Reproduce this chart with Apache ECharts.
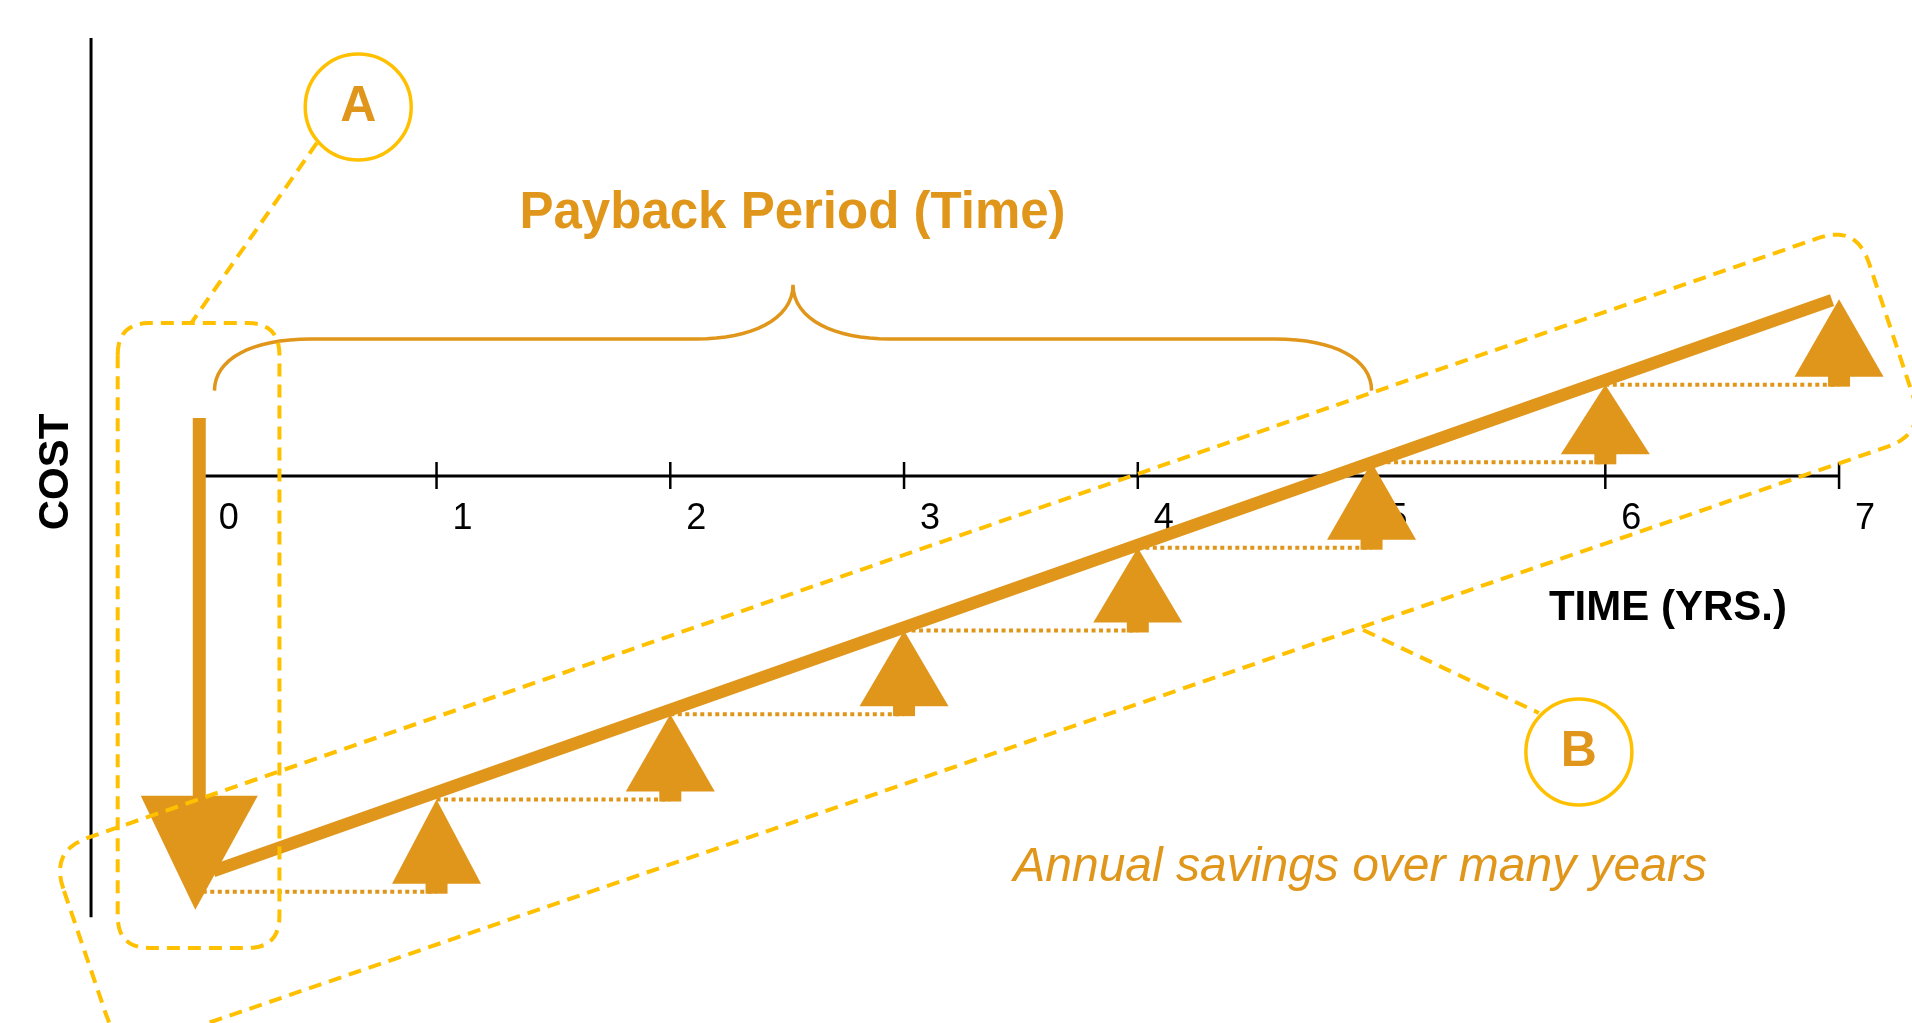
<!DOCTYPE html>
<html>
<head>
<meta charset="utf-8">
<title>Payback Period</title>
<script src="https://cdn.jsdelivr.net/npm/echarts@6/dist/echarts.min.js"></script>
<style>
  html, body { margin: 0; padding: 0; background: #fff; }
  #chart { width: 1912px; height: 1023px; }
</style>
</head>
<body>
<div id="chart"></div>
<script>
// time axis (years)
var years = [0, 1, 2, 3, 4, 5, 6, 7];
var yearLabels = ['0', '1', '2', '3', '4', '5', '6', '7'];
// initial cost arrow: [year, top, tip] in cost units
var initialArrow = [-0.015, 0.68, -5.08];
// net position right after the investment
var netStart = -4.87;
// savings gained each year (height of each up arrow)
var annualSavings = [1.08, 1.00, 0.98, 0.97, 1.00, 0.91, 1.00];
// straight cumulative line [year, cost]
var trendStart = [0.044, -4.63];
var trendEnd = [6.97, 2.06];
// payback brace span in years
var payback = [0.05, 5.0];

// cumulative net position at the end of each year
var netLevels = [netStart];
annualSavings.forEach(function (s, i) {
    netLevels.push(+(netLevels[i] + s).toFixed(2));
});

var ORANGE = '#E0961A';
var YELLOW = '#FFC000';
var FONT = "'Liberation Sans', Arial, sans-serif";

// annotation placement, in axis units
var layout = {
    braceEnd: 1.0, braceBar: 1.605, bracePeak: 2.24,
    title: [2.523, 3.075],
    axisName: [6.268, -1.546],
    costLabel: [-0.626, 0.047],
    costAxis: [-0.478, 5.13, -5.17],
    note: [4.951, -4.592],
    circleA: [0.665, 4.323], circleB: [5.887, -3.233],
    lineA: [[0.488, 3.902], [-0.046, 1.804]],
    lineB: [[4.964, -1.804], [5.716, -2.776]],
    boxA: [[-0.364, 1.792], [0.328, 1.792], [0.328, -5.53], [-0.364, -5.53]],
    boxB: [[-0.652, -4.39], [7.074, 2.942], [7.37, 0.496], [-0.357, -6.765]]
};

function unit(a, b) {
    var dx = a[0] - b[0], dy = a[1] - b[1];
    var l = Math.sqrt(dx * dx + dy * dy);
    return [dx / l, dy / l];
}
// polygon with rounded corners, as a list of points
function roundedPoly(pts, r) {
    var out = [], n = pts.length;
    for (var i = 0; i < n; i++) {
        var p = pts[i], a = pts[(i - 1 + n) % n], b = pts[(i + 1) % n];
        var da = unit(a, p), db = unit(b, p);
        var s = [p[0] + da[0] * r, p[1] + da[1] * r];
        var e = [p[0] + db[0] * r, p[1] + db[1] * r];
        for (var k = 0; k <= 10; k++) {
            var t = k / 10, u = 1 - t;
            out.push([u * u * s[0] + 2 * u * t * p[0] + t * t * e[0],
                      u * u * s[1] + 2 * u * t * p[1] + t * t * e[1]]);
        }
    }
    return out;
}
function cubic(p0, c1, c2, p3, out) {
    for (var k = 0; k <= 16; k++) {
        var t = k / 16, u = 1 - t;
        out.push([
            u * u * u * p0[0] + 3 * u * u * t * c1[0] + 3 * u * t * t * c2[0] + t * t * t * p3[0],
            u * u * u * p0[1] + 3 * u * u * t * c1[1] + 3 * u * t * t * c2[1] + t * t * t * p3[1]
        ]);
    }
}

// one-off drawing on the cartesian grid
function single(z, fn) {
    return {
        type: 'custom', coordinateSystem: 'cartesian2d', silent: true, z: z,
        data: [[0, 0]],
        renderItem: function (params, api) { return fn(api); }
    };
}
function dashedBox(api, corners, r) {
    var pts = corners.map(function (c) { return api.coord(c); });
    return {
        type: 'polygon', shape: { points: roundedPoly(pts, r) },
        style: { fill: null, stroke: YELLOW, lineWidth: 4, lineDash: [13, 8] }
    };
}
function circleLabel(api, c, letter) {
    var p = api.coord(c);
    return {
        type: 'group', children: [
            { type: 'circle', shape: { cx: p[0], cy: p[1], r: 53 },
              style: { fill: '#fff', stroke: YELLOW, lineWidth: 3.5 } },
            { type: 'text', x: p[0], y: p[1],
              style: { text: letter, fill: ORANGE, font: 'bold 50px ' + FONT,
                       align: 'center', verticalAlign: 'middle' } }
        ]
    };
}

var chart = echarts.init(document.getElementById('chart'));

chart.setOption({
    animation: false,
    backgroundColor: '#fff',
    grid: { left: 85.9, right: 14.5, top: 6.5, bottom: 13.5 },
    xAxis: { type: 'value', min: -0.5, max: 7.25, show: false },
    yAxis: { type: 'value', min: -6.25, max: 5.5, show: false },
    series: [
        // time axis line
        {
            type: 'line', z: 1, silent: true, symbol: 'none',
            data: [[years[0], 0], [years[years.length - 1], 0]],
            lineStyle: { color: '#000', width: 3 }
        },
        // cost axis line
        {
            type: 'line', z: 1, silent: true, symbol: 'none',
            data: [[layout.costAxis[0], layout.costAxis[1]], [layout.costAxis[0], layout.costAxis[2]]],
            lineStyle: { color: '#000', width: 3 }
        },
        // ticks and year labels
        {
            type: 'custom', coordinateSystem: 'cartesian2d', silent: true, z: 1,
            data: years.map(function (y) { return [y, 0]; }),
            renderItem: function (params, api) {
                var p = api.coord([api.value(0), 0]);
                var kids = [{
                    type: 'text', x: p[0] + 26, y: p[1] + 43,
                    style: { text: yearLabels[params.dataIndex], fill: '#000', font: '36px ' + FONT,
                             align: 'center', verticalAlign: 'middle' }
                }];
                if (api.value(0) > 0) {
                    kids.push({ type: 'line', shape: { x1: p[0], y1: p[1] - 14, x2: p[0], y2: p[1] + 13 },
                                style: { stroke: '#000', lineWidth: 2.5 } });
                }
                return { type: 'group', children: kids };
            }
        },
        // dotted steps at previous net level
        {
            type: 'custom', coordinateSystem: 'cartesian2d', silent: true, z: 2,
            data: annualSavings.map(function (s, i) { return [years[i], years[i + 1], netLevels[i]]; }),
            renderItem: function (params, api) {
                var a = api.coord([api.value(0), api.value(2)]);
                var b = api.coord([api.value(1), api.value(2)]);
                return { type: 'line', shape: { x1: a[0], y1: a[1], x2: b[0], y2: b[1] },
                         style: { stroke: ORANGE, lineWidth: 4, lineDash: [4, 3.5] } };
            }
        },
        // annual savings arrows
        {
            type: 'custom', coordinateSystem: 'cartesian2d', silent: true, z: 3,
            data: annualSavings.map(function (s, i) { return [years[i + 1], netLevels[i], netLevels[i + 1]]; }),
            renderItem: function (params, api) {
                var b = api.coord([api.value(0), api.value(1)]);
                var t = api.coord([api.value(0), api.value(2)]);
                var bottom = b[1] + 2, baseY = bottom - 10;
                return {
                    type: 'group', children: [
                        { type: 'rect', shape: { x: b[0] - 11, y: baseY - 1, width: 22, height: bottom - baseY + 1 },
                          style: { fill: ORANGE } },
                        { type: 'polygon', shape: { points: [[t[0], t[1]], [b[0] - 44.5, baseY], [b[0] + 44.5, baseY]] },
                          style: { fill: ORANGE } }
                    ]
                };
            }
        },
        // initial investment arrow
        single(4, function (api) {
            var top = api.coord([initialArrow[0], initialArrow[1]]);
            var tip = api.coord([initialArrow[0], initialArrow[2]]);
            var baseY = tip[1] - 114;
            return {
                type: 'group', children: [
                    { type: 'rect', shape: { x: top[0] - 6.5, y: top[1], width: 13, height: baseY - top[1] + 1 },
                      style: { fill: ORANGE } },
                    { type: 'polygon', shape: { points: [[tip[0] - 4, tip[1]], [tip[0] - 58.5, baseY], [tip[0] + 58.5, baseY]] },
                      style: { fill: ORANGE } }
                ]
            };
        }),
        // cumulative savings line
        {
            type: 'line', z: 4, silent: true, symbol: 'none',
            data: [trendStart, trendEnd],
            lineStyle: { color: ORANGE, width: 12.5, cap: 'butt' }
        },
        // payback brace and its title
        single(5, function (api) {
            var L = api.coord([payback[0], layout.braceEnd]);
            var R = api.coord([payback[1], layout.braceEnd]);
            var yH = api.coord([payback[0], layout.braceBar])[1];
            var yP = api.coord([payback[0], layout.bracePeak])[1];
            var xm = (L[0] + R[0]) / 2;
            var pts = [];
            cubic(L, [L[0], L[1] - 31], [L[0] + 36, yH], [L[0] + 97, yH], pts);
            cubic([xm - 96, yH], [xm - 43, yH], [xm, yH - 19], [xm, yP], pts);
            cubic([xm, yP], [xm, yH - 19], [xm + 43, yH], [xm + 96, yH], pts);
            cubic([R[0] - 97, yH], [R[0] - 36, yH], [R[0], R[1] - 31], R, pts);
            var tp = api.coord(layout.title);
            return {
                type: 'group', children: [
                    { type: 'polyline', shape: { points: pts },
                      style: { fill: null, stroke: ORANGE, lineWidth: 3.5 } },
                    { type: 'text', x: tp[0], y: tp[1],
                      style: { text: 'Payback Period (Time)', fill: ORANGE, font: 'bold 51px ' + FONT,
                               align: 'center', verticalAlign: 'middle' } }
                ]
            };
        }),
        // axis names and note
        single(5, function (api) {
            var a = api.coord(layout.axisName);
            var c = api.coord(layout.costLabel);
            var n = api.coord(layout.note);
            return {
                type: 'group', children: [
                    { type: 'text', x: a[0], y: a[1],
                      style: { text: 'TIME (YRS.)', fill: '#000', font: 'bold 42px ' + FONT,
                               align: 'center', verticalAlign: 'middle' } },
                    { type: 'text', x: c[0], y: c[1], rotation: Math.PI / 2,
                      style: { text: 'COST', fill: '#000', font: 'bold 42px ' + FONT,
                               align: 'center', verticalAlign: 'middle' } },
                    { type: 'text', x: n[0], y: n[1],
                      style: { text: 'Annual savings over many years', fill: ORANGE, font: 'italic 48px ' + FONT,
                               align: 'center', verticalAlign: 'middle' } }
                ]
            };
        }),
        // dashed callout boxes, leaders and circles
        single(6, function (api) {
            var la = layout.lineA.map(function (c) { return api.coord(c); });
            var lb = layout.lineB.map(function (c) { return api.coord(c); });
            var dash = { stroke: YELLOW, lineWidth: 4, lineDash: [13, 8] };
            return {
                type: 'group', children: [
                    dashedBox(api, layout.boxA, 32),
                    dashedBox(api, layout.boxB, 40),
                    { type: 'line', shape: { x1: la[0][0], y1: la[0][1], x2: la[1][0], y2: la[1][1] }, style: dash },
                    { type: 'line', shape: { x1: lb[0][0], y1: lb[0][1], x2: lb[1][0], y2: lb[1][1] }, style: dash },
                    circleLabel(api, layout.circleA, 'A'),
                    circleLabel(api, layout.circleB, 'B')
                ]
            };
        })
    ]
});
</script>
</body>
</html>
